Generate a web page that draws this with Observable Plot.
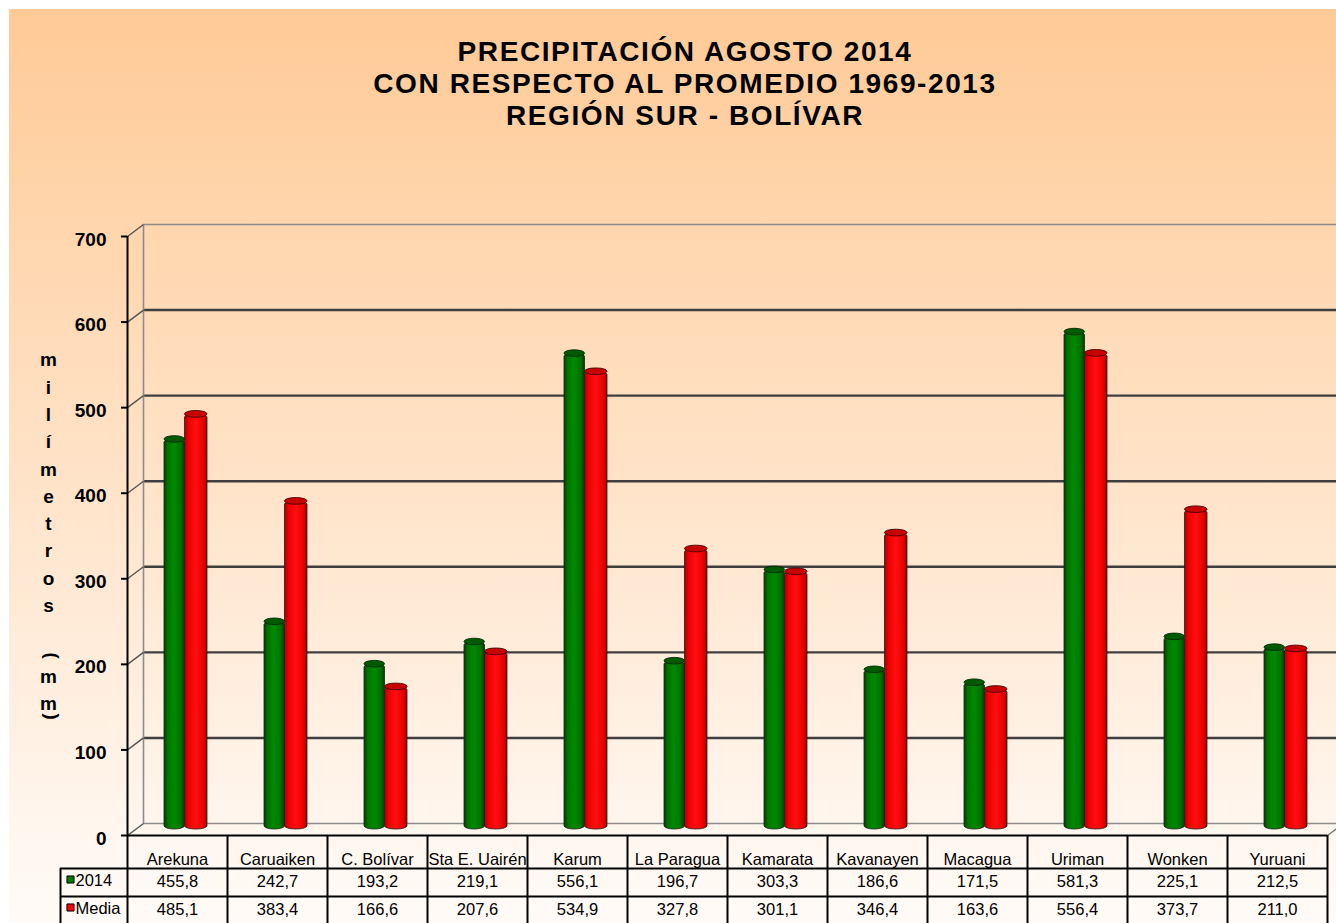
<!DOCTYPE html>
<html><head><meta charset="utf-8">
<script src="https://cdn.jsdelivr.net/npm/d3@7"></script>
<script src="https://cdn.jsdelivr.net/npm/@observablehq/plot@0.6"></script>
<style>
html,body{margin:0;padding:0;background:#fff;}
#wrap{position:relative;width:1336px;height:923px;overflow:hidden;font-family:"Liberation Sans",Arial,sans-serif;}
#bg{position:absolute;left:9px;top:9px;right:0;bottom:0;background:linear-gradient(to bottom,#FFCA96 0%,#FFFBF8 100%);}
#title{position:absolute;left:34px;right:0;top:36px;text-align:center;font-weight:bold;font-size:28px;line-height:32px;letter-spacing:1.6px;color:#000;}
#chart{position:absolute;left:0;top:0;}
#chart g[aria-label="y-axis tick label"]{font-weight:bold;}
</style></head>
<body>
<div id="wrap">
<div id="bg"></div>
<div id="title">PRECIPITACIÓN AGOSTO 2014<br>CON RESPECTO AL PROMEDIO 1969-2013<br>REGIÓN SUR - BOLÍVAR</div>
<div id="chart"></div>
<svg width="0" height="0" style="position:absolute">
<defs>
<linearGradient id="gG" x1="0" x2="1" y1="0" y2="0">
<stop offset="0%" stop-color="#004000"/><stop offset="18%" stop-color="#007400"/><stop offset="50%" stop-color="#008a00"/><stop offset="82%" stop-color="#007000"/><stop offset="100%" stop-color="#003a00"/>
</linearGradient>
<linearGradient id="gR" x1="0" x2="1" y1="0" y2="0">
<stop offset="0%" stop-color="#a80000"/><stop offset="18%" stop-color="#ee0000"/><stop offset="50%" stop-color="#ff1010"/><stop offset="82%" stop-color="#ea0000"/><stop offset="100%" stop-color="#9a0000"/>
</linearGradient>
</defs>
</svg>
</div>
<script>
// ---- data ----
const stations = ["Arekuna","Caruaiken","C. Bolívar","Sta E. Uairén","Karum","La Paragua","Kamarata","Kavanayen","Macagua","Uriman","Wonken","Yuruani"];
const precip2014 = [455.8,242.7,193.2,219.1,556.1,196.7,303.3,186.6,171.5,581.3,225.1,212.5];
const precipMedia = [485.1,383.4,166.6,207.6,534.9,327.8,301.1,346.4,163.6,556.4,373.7,211.0];
const seriesNames = ["2014","Media"];
const yTicks = [0,100,200,300,400,500,600,700];
const yLabelWord = "milímetros";
const yLabelUnit = "mm";

// ---- layout ----
const W = 1336, H = 923, ML = 127, MR = 9, MT = 236, MB = 88;
const Y0 = H - MB;
const K = (H - MB - MT) / 700;
const toY = p => (Y0 - p) / K;
const toX = p => (p - ML) / 100;
const DX = 16 / 100, DY = 12 / K, MID = DY / 2;
const fmt = v => d3.format(".1f")(v).replace(".", ",");
const FONT = 16.5;

const rows2014 = stations.map((s, i) => ({i, value: precip2014[i]}));
const rowsMedia = stations.map((s, i) => ({i, value: precipMedia[i]}));
const OFF = {"2014": [0.37, 0.575], "Media": [0.575, 0.80]};

function cyl(rows, key, grad, top, edge) {
  return [
    Plot.rect(rows, {x1: d => d.i + OFF[key][0], x2: d => d.i + OFF[key][1], y1: MID, y2: d => d.value + MID,
      fill: grad, stroke: "#1e1e1e", strokeWidth: 0.8, rx: 10.5, ry: 3.3}),
    Plot.rect(rows, {x1: d => d.i + OFF[key][0], x2: d => d.i + OFF[key][1], y1: d => d.value + MID, y2: d => d.value + MID,
      insetTop: -3.3, insetBottom: -3.3, fill: top, stroke: edge, strokeWidth: 0.9, rx: 10.5, ry: 3.3})
  ];
}

const chart = Plot.plot({
  width: W, height: H,
  marginLeft: ML, marginRight: MR, marginTop: MT, marginBottom: MB,
  x: {domain: [0, 12], axis: null},
  y: {domain: [0, 700]},
  style: {background: "transparent", fontFamily: "'Liberation Sans', Arial, sans-serif", color: "#000", overflow: "visible"},
  marks: [
    // back wall gridlines
    Plot.ruleY(yTicks.filter(d => d !== 0 && d !== 700), {y: d => d + DY, x1: DX, x2: 12.3, stroke: "#3e3e3e", strokeWidth: 2.4}),
    Plot.ruleY(yTicks.filter(d => d === 0 || d === 700), {y: d => d + DY, x1: DX, x2: 12.3, stroke: "#8c8c8c", strokeWidth: 1.6}),
    // back-left wall edge
    Plot.ruleX([DX], {y1: DY, y2: 700 + DY, stroke: "#8c8c8c", strokeWidth: 1.6}),
    // depth connectors
    Plot.link(yTicks, {x1: 0, y1: d => d, x2: DX, y2: d => d + DY, stroke: "#555", strokeWidth: 1.4}),
    Plot.link([12], {x1: d => d, y1: 0, x2: d => d + DX, y2: DY, stroke: "#777", strokeWidth: 1.4}),
    // cylinders
    ...cyl(rows2014, "2014", "url(#gG)", "#005a00", "#002800"),
    ...cyl(rowsMedia, "Media", "url(#gR)", "#c80000", "#4a0000"),
    // front floor edge and axis line
    Plot.ruleY([0], {x1: 0, x2: 12, stroke: "#000", strokeWidth: 2}),
    Plot.ruleX([0], {y1: 0, y2: 700, stroke: "#000", strokeWidth: 2}),
    Plot.ruleY(yTicks, {x1: toX(121), x2: 0, stroke: "#000", strokeWidth: 2}),
    Plot.axisY(yTicks, {anchor: "left", tickSize: 0, tickPadding: 21, fontSize: 19, fontWeight: "bold", dy: 3, label: null}),
    // vertical axis title
    Plot.text([yLabelWord], {x: toX(48), y: toY(480), text: d => [...d].join("\n"), lineHeight: 1.437, fontSize: 19, fontWeight: "bold"}),
    Plot.text([yLabelUnit], {x: toX(48), y: toY(687), text: d => [...d].join("\n"), lineHeight: 1.437, fontSize: 19, fontWeight: "bold"}),
    Plot.text([")"], {x: toX(48), y: toY(655), rotate: -90, fontSize: 19, fontWeight: "bold"}),
    Plot.text(["("], {x: toX(48), y: toY(716), rotate: -90, fontSize: 19, fontWeight: "bold"}),
    // data table
    Plot.ruleX(d3.range(0, 13), {y1: 0, y2: toY(930), stroke: "#000", strokeWidth: 2}),
    Plot.ruleX([toX(60)], {y1: toY(868), y2: toY(930), stroke: "#000", strokeWidth: 2}),
    Plot.ruleY([868, 896], {y: p => toY(p), x1: toX(60), x2: 12, stroke: "#000", strokeWidth: 2}),
    Plot.text(stations, {x: (d, i) => i + 0.5, y: 0, dy: 24, fontSize: FONT}),
    Plot.text(precip2014, {x: (d, i) => i + 0.5, y: 0, dy: 46.5, text: d => fmt(d), fontSize: FONT}),
    Plot.text(precipMedia, {x: (d, i) => i + 0.5, y: 0, dy: 74.5, text: d => fmt(d), fontSize: FONT}),
    Plot.dot(seriesNames, {x: toX(70), y: (d, i) => toY(879 + 28 * i), symbol: "square", r: 4,
      fill: (d, i) => i === 0 ? "#008000" : "#ff0000", stroke: "#000", strokeWidth: 1}),
    Plot.text(seriesNames, {x: toX(75), y: (d, i) => toY(880 + 28 * i), textAnchor: "start", fontSize: FONT})
  ]
});
document.getElementById("chart").appendChild(chart);
</script>
</body></html>
